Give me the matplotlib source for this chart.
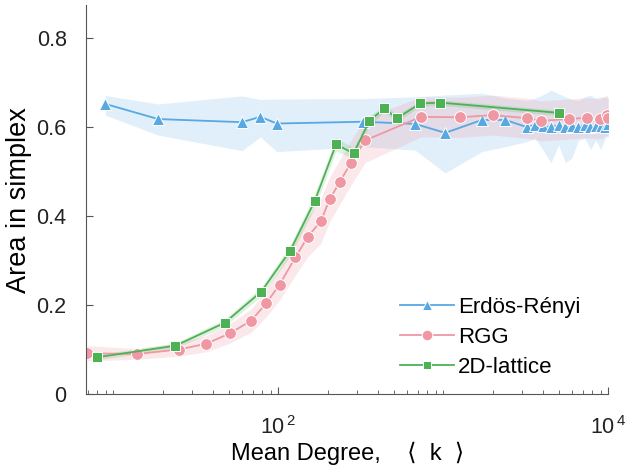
import numpy as np
import matplotlib
matplotlib.use("Agg")
from matplotlib import pyplot as plt
from matplotlib.ticker import FixedLocator, FuncFormatter, LogLocator, NullFormatter

plt.rcParams['font.family'] = ['Liberation Sans', 'DejaVu Sans']
plt.rcParams['mathtext.fontset'] = 'custom'
plt.rcParams['mathtext.rm'] = 'Liberation Sans'

# Erdos-Renyi
k_er = [8.95, 18.7, 60.3, 77.8, 98, 327, 676, 1028, 1717, 2375,
        3200, 3600, 4000, 4500, 5000, 5500, 6000, 6600, 7200, 7800, 8400, 9000, 9600, 10000]
v_er = [0.652, 0.618, 0.611, 0.623, 0.608, 0.612, 0.607, 0.587, 0.616, 0.616,
        0.600, 0.605, 0.602, 0.600, 0.604, 0.601, 0.603, 0.600, 0.604, 0.600, 0.602, 0.603, 0.600, 0.606]
lo_er = [0.627, 0.582, 0.547, 0.578, 0.545, 0.556, 0.548, 0.497, 0.545, 0.556,
         0.567, 0.575, 0.55, 0.52, 0.56, 0.52, 0.53, 0.57, 0.575, 0.55, 0.57, 0.55, 0.575, 0.58]
hi_er = [0.671, 0.652, 0.670, 0.662, 0.663, 0.664, 0.668, 0.672, 0.676, 0.665,
         0.66, 0.665, 0.672, 0.683, 0.675, 0.668, 0.662, 0.66, 0.668, 0.672, 0.665, 0.668, 0.668, 0.665]

# RGG
k_rgg = [6.95, 14.0, 24.9, 36.6, 50.7, 68.6, 84.6, 101.8, 127, 150.6, 181.5, 204.7, 235.4,
         276, 336, 733, 1268, 1990, 3213, 3907, 5743, 7430, 8950, 9820, 10000]
v_rgg = [0.0915, 0.09, 0.10, 0.113, 0.136, 0.165, 0.204, 0.246, 0.307, 0.353, 0.389, 0.4375, 0.476,
         0.52, 0.57, 0.623, 0.622, 0.627, 0.62, 0.614, 0.618, 0.621, 0.618, 0.627, 0.620]
hw_rgg = [0.017, 0.012, 0.015, 0.018, 0.022, 0.026, 0.03, 0.035, 0.04, 0.045, 0.05, 0.05, 0.05,
          0.05, 0.05, 0.045, 0.045, 0.045, 0.045, 0.045, 0.045, 0.045, 0.045, 0.045, 0.045]

# 2D lattice
k_lat = [7.96, 23.8, 47.3, 78.9, 118, 166, 224, 286, 357, 439, 524, 726, 959, 5000]
v_lat = [0.0825, 0.1085, 0.16, 0.23, 0.322, 0.433, 0.561, 0.541, 0.614, 0.642, 0.62, 0.653, 0.655, 0.632]
hw_lat = [0.006, 0.006, 0.008, 0.01, 0.012, 0.015, 0.015, 0.012, 0.01, 0.008, 0.008, 0.006, 0.006, 0.006]

c_er = '#58A8E2'
c_rgg = '#EF98A4'
c_lat = '#4DB254'

fig = plt.figure(figsize=(6.29, 4.71), dpi=100)
ax = fig.add_axes([0.137, 0.1635, 0.83, 0.8255])

ax.fill_between(k_er, lo_er, hi_er, color=c_er, alpha=0.18, lw=0)
v = np.array(v_rgg); h = np.array(hw_rgg)
ax.fill_between(k_rgg, v - h, v + h, color=c_rgg, alpha=0.22, lw=0)
v = np.array(v_lat); h = np.array(hw_lat)
ax.fill_between(k_lat, v - h, v + h, color=c_lat, alpha=0.18, lw=0)

ax.plot(k_er, v_er, '-^', color=c_er, lw=1.3, ms=8.5, mec='white', mew=0.7, label='Erdös-Rényi')
ax.plot(k_rgg, v_rgg, '-o', color=c_rgg, lw=1.3, ms=8.5, mec='white', mew=0.7, label='RGG')
ax.plot(k_lat, v_lat, '-s', color=c_lat, lw=1.3, ms=7, mec='white', mew=0.7, label='2D-lattice')

ax.set_xscale('log')
ax.set_xlim(6.85, 1e4)
ax.set_ylim(0, 0.874)
ax.xaxis.set_major_locator(FixedLocator([1e2, 1e4]))
ax.xaxis.set_major_formatter(FuncFormatter(lambda x, p: r'$\mathregular{10^{\,%d}}$' % round(np.log10(x))))
ax.xaxis.set_minor_locator(LogLocator(base=10, subs=np.arange(1, 10)))
ax.xaxis.set_minor_formatter(NullFormatter())
ax.set_yticks([0, 0.2, 0.4, 0.6, 0.8])
ax.yaxis.set_major_formatter(FuncFormatter(lambda y, p: '%g' % y))

for s in ['top', 'right']:
    ax.spines[s].set_visible(False)
for s in ['left', 'bottom']:
    ax.spines[s].set_color('#555555')
ax.tick_params(which='both', direction='in', colors='#555555', labelcolor='#222222', labelsize=15.5)
ax.tick_params(which='major', length=5)
ax.tick_params(which='minor', length=3)
ax.tick_params(axis='x', which='major', pad=16)
ax.tick_params(axis='y', which='major', pad=14)

ax.set_xlabel('Mean Degree,    ⟨  k  ⟩', fontsize=17, labelpad=2)
ax.set_ylabel('Area in simplex', fontsize=19.5, labelpad=3)

ax.legend(loc='lower right', bbox_to_anchor=(0.985, -0.01), frameon=False, fontsize=16,
          handlelength=2.4, handletextpad=0.2, labelspacing=0.4, markerscale=0.9)

fig.savefig('out.png', dpi=100)
